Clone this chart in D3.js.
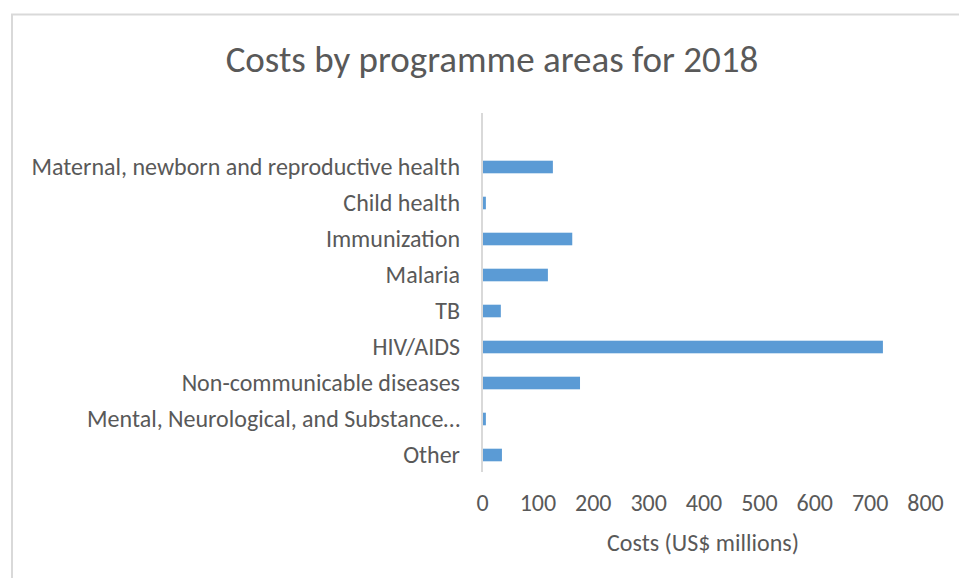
<!DOCTYPE html>
<html>
<head>
<meta charset="utf-8">
<script src="https://cdn.jsdelivr.net/npm/d3@7"></script>
<style>
  body { margin: 0; background: #fff; }
  svg text { font-family: Carlito, Lato, sans-serif; fill: #595959; }
</style>
</head>
<body>
<div id="chart"></div>
<script>
// programme areas, top to bottom
var categories = [
  "Maternal, newborn and reproductive health",
  "Child health",
  "Immunization",
  "Malaria",
  "TB",
  "HIV/AIDS",
  "Non-communicable diseases",
  "Mental, Neurological, and Substance\u2026",
  "Other"
];
// costs, US$ millions
var costs = [128, 7, 163, 119, 34, 724, 177, 7, 36];
var xTicks = [0, 100, 200, 300, 400, 500, 600, 700, 800];

var W = 959, H = 578;
var left = 482, right = 925, plotTop = 113, plotBottom = 473;

var svg = d3.select("#chart").append("svg")
  .attr("width", W)
  .attr("height", H);

// chart frame (runs off right and bottom)
svg.append("rect")
  .attr("x", 12).attr("y", 14.5)
  .attr("width", W + 20).attr("height", H + 20)
  .attr("fill", "none")
  .attr("stroke", "#d9d9d9")
  .attr("stroke-width", 2);

svg.append("text")
  .attr("x", 492).attr("y", 72)
  .attr("text-anchor", "middle")
  .style("font-size", "37px")
  .text("Costs by programme areas for 2018");

var x = d3.scaleLinear().domain([0, 800]).range([left, right]);

// one empty slot on top, like the original
var step = (plotBottom - plotTop) / (categories.length + 1);
var y = d3.scaleBand()
  .domain(categories)
  .range([plotTop + step, plotBottom])
  .paddingInner(0.65)
  .paddingOuter(0.325);

svg.selectAll("rect.bar")
  .data(costs)
  .enter()
  .append("rect")
    .attr("class", "bar")
    .attr("x", x(0) + 1)
    .attr("y", function(d, i) { return y(categories[i]); })
    .attr("width", function(d) { return x(d) - x(0) - 1; })
    .attr("height", y.bandwidth())
    .attr("fill", "#5b9bd5");

// vertical axis line
svg.append("line")
  .attr("x1", x(0)).attr("x2", x(0))
  .attr("y1", plotTop).attr("y2", plotBottom - 1)
  .attr("stroke", "#d9d9d9")
  .attr("stroke-width", 2);

var yAxis = svg.append("g")
  .attr("transform", "translate(" + (left - 1) + ",0)")
  .call(d3.axisLeft(y).tickSize(0).tickPadding(21));
yAxis.select(".domain").remove();
yAxis.selectAll("text")
  .style("font-size", "24px")
  .attr("fill", "#595959")
  .attr("dy", "0.35em");

var xAxis = svg.append("g")
  .attr("transform", "translate(0," + plotBottom + ")")
  .call(d3.axisBottom(x).tickValues(xTicks).tickSize(0).tickPadding(21));
xAxis.select(".domain").remove();
xAxis.selectAll("text")
  .style("font-size", "24px")
  .attr("fill", "#595959");

svg.append("text")
  .attr("x", 703).attr("y", 551)
  .attr("text-anchor", "middle")
  .style("font-size", "24px")
  .text("Costs (US$ millions)");
</script>
</body>
</html>
